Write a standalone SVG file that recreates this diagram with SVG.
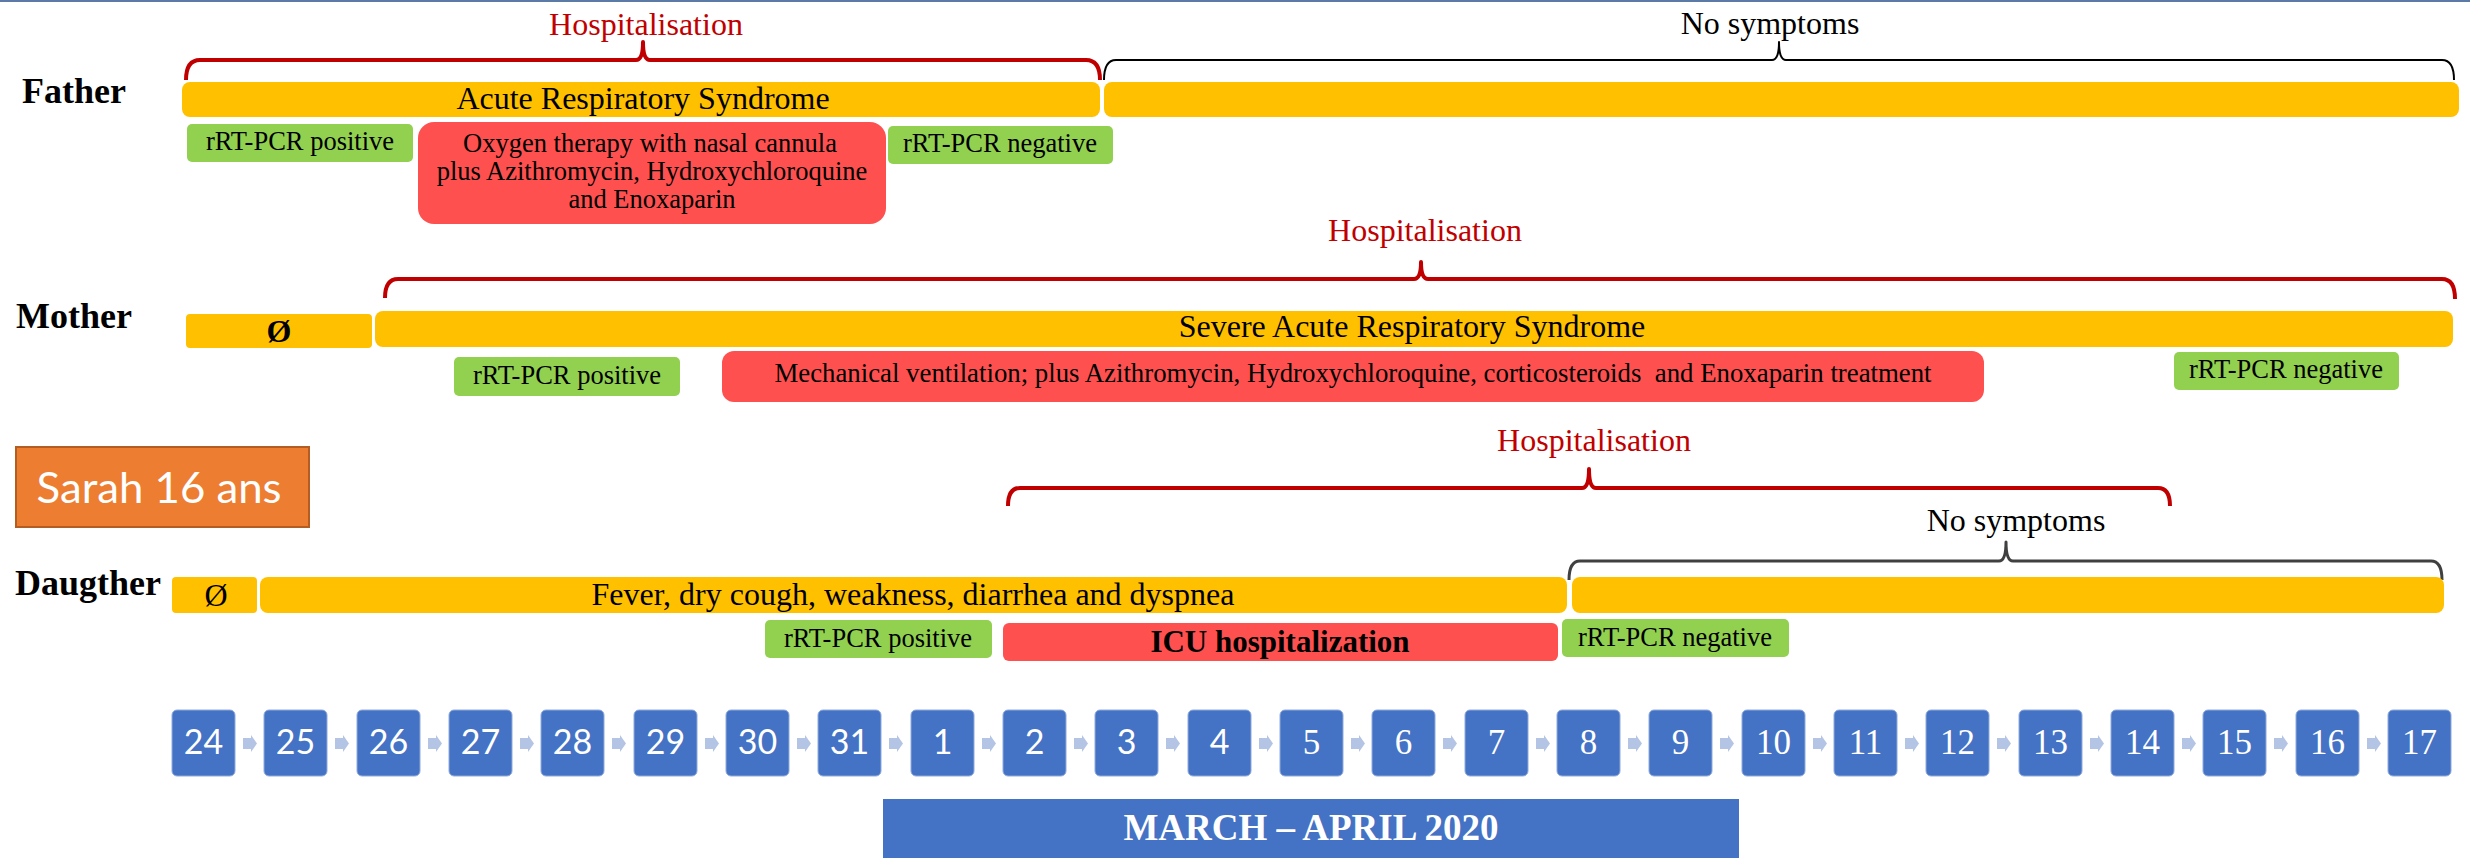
<svg xmlns="http://www.w3.org/2000/svg" xmlns:xlink="http://www.w3.org/1999/xlink" width="2470" height="858" viewBox="0 0 2470 858">
<style>
text{font-family:"Liberation Serif","Times New Roman",serif;fill:#000}
.bar{fill:#FFC000}
.pcr{fill:#92D050}
.red{fill:#FF5050}
.day{fill:#4472C4;stroke:#8FAADC;stroke-width:1}
.chev{fill:#B4C4E4}
.braceR{fill:none;stroke:#C00000;stroke-width:4;stroke-linejoin:round}
.braceK{fill:none;stroke:#000;stroke-width:2;stroke-linejoin:round}
.braceG{fill:none;stroke:#404040;stroke-width:3;stroke-linejoin:round}
.hosp{font-size:32px;fill:#C00000;text-anchor:middle}
.nos{font-size:32px;text-anchor:middle}
.who{font-size:36px;font-weight:bold}
.big{font-size:32px;text-anchor:middle}
.sm{font-size:26.5px;text-anchor:middle}
.dnS{font-family:Lato,"Liberation Sans",sans-serif;font-size:34px;fill:#fff;text-anchor:middle}
.dnT{font-size:35px;fill:#fff;text-anchor:middle}
.sarah{font-family:Lato,"Liberation Sans",sans-serif;font-size:42px;fill:#fff;text-anchor:middle}
.period{font-size:37px;font-weight:bold;fill:#fff;text-anchor:middle}
</style>
<defs>
<polygon id="chev" class="chev" points="0,3 8,3 8,0 14,8.5 8,17 8,14 0,14"/>
</defs>
<line x1="0" y1="1" x2="2470" y2="1" stroke="#5B7BA6" stroke-width="2"/>

<g id="connectors">
<path class="braceR" d="M186,80 Q186,60 200,60 L636,60 Q643,60 643,42 Q643,60 650,60 L1086,60 Q1100,60 1100,80"/>
<path class="braceK" d="M1104,80 Q1104,60 1116,60 L1772,60 Q1779,60 1779,42 Q1779,60 1786,60 L2442,60 Q2454,60 2454,80"/>
<path class="braceR" d="M385,298 Q385,279 398,279 L1414,279 Q1421,279 1421,262 Q1421,279 1428,279 L2442,279 Q2455,279 2455,299"/>
<path class="braceR" d="M1008,506 Q1008,488 1020,488 L1582,488 Q1589,488 1589,469 Q1589,488 1596,488 L2158,488 Q2170,488 2170,506"/>
<path class="braceG" d="M1569,580 Q1569,561 1580,561 L1999,561 Q2006,561 2006,542 Q2006,561 2013,561 L2431,561 Q2442,561 2442,580"/>
</g>

<g id="braceLabels">
<text class="hosp" x="646" y="35">Hospitalisation</text>
<text class="nos" x="1770" y="34">No symptoms</text>
<text class="hosp" x="1425" y="241">Hospitalisation</text>
<text class="hosp" x="1594" y="451">Hospitalisation</text>
<text class="nos" x="2016" y="531">No symptoms</text>
</g>

<g id="father">
<text class="who" x="22" y="103">Father</text>
<rect class="bar" x="182" y="82" width="918" height="35" rx="8"/>
<text class="big" x="643" y="109">Acute Respiratory Syndrome</text>
<rect class="bar" x="1104" y="82" width="1355" height="35" rx="8"/>
<rect class="pcr" x="187" y="124" width="226" height="38" rx="5"/>
<text class="sm" x="300" y="150">rRT-PCR positive</text>
<rect class="red" x="418" y="122" width="468" height="102" rx="16"/>
<text class="sm" x="650" y="152">Oxygen therapy with nasal cannula</text>
<text class="sm" x="652" y="180">plus Azithromycin, Hydroxychloroquine</text>
<text class="sm" x="652" y="208">and Enoxaparin</text>
<rect class="pcr" x="888" y="126" width="225" height="38" rx="5"/>
<text class="sm" x="1000" y="152">rRT-PCR negative</text>
</g>

<g id="mother">
<text class="who" x="16" y="328">Mother</text>
<rect class="bar" x="186" y="314" width="186" height="34" rx="4"/>
<text x="279" y="342" font-size="32" font-weight="bold" text-anchor="middle">Ø</text>
<rect class="bar" x="375" y="311" width="2078" height="36" rx="8"/>
<text class="big" x="1412" y="337">Severe Acute Respiratory Syndrome</text>
<rect class="pcr" x="454" y="357" width="226" height="39" rx="5"/>
<text class="sm" x="567" y="384">rRT-PCR positive</text>
<rect class="red" x="722" y="351" width="1262" height="51" rx="12"/>
<text x="1353" y="382" font-size="26.8" text-anchor="middle" xml:space="preserve">Mechanical ventilation; plus Azithromycin, Hydroxychloroquine, corticosteroids  and Enoxaparin treatment</text>
<rect class="pcr" x="2174" y="352" width="225" height="38" rx="5"/>
<text class="sm" x="2286" y="378">rRT-PCR negative</text>
</g>

<g id="sarah">
<rect x="16" y="447" width="293" height="80" fill="#ED7D31" stroke="#B35D22" stroke-width="2"/>
<text class="sarah" x="159" y="503" textLength="245" lengthAdjust="spacingAndGlyphs">Sarah 16 ans</text>
</g>

<g id="daughter">
<text class="who" x="15" y="595">Daugther</text>
<rect class="bar" x="172" y="577" width="85" height="36" rx="4"/>
<text x="216" y="606" font-size="32" text-anchor="middle">Ø</text>
<rect class="bar" x="260" y="577" width="1307" height="36" rx="8"/>
<text class="big" x="913" y="605" font-size="31.5">Fever, dry cough, weakness, diarrhea and dyspnea</text>
<rect class="bar" x="1572" y="577" width="872" height="36" rx="8"/>
<rect class="pcr" x="765" y="620" width="227" height="38" rx="5"/>
<text class="sm" x="878" y="647">rRT-PCR positive</text>
<rect class="red" x="1003" y="623" width="555" height="38" rx="6"/>
<text x="1280" y="652" font-size="31" font-weight="bold" text-anchor="middle">ICU hospitalization</text>
<rect class="pcr" x="1562" y="619" width="227" height="38" rx="5"/>
<text class="sm" x="1675" y="646">rRT-PCR negative</text>
</g>

<g id="timeline">
<use xlink:href="#chev" x="243" y="735"/>
<use xlink:href="#chev" x="335" y="735"/>
<use xlink:href="#chev" x="428" y="735"/>
<use xlink:href="#chev" x="520" y="735"/>
<use xlink:href="#chev" x="612" y="735"/>
<use xlink:href="#chev" x="705" y="735"/>
<use xlink:href="#chev" x="797" y="735"/>
<use xlink:href="#chev" x="889" y="735"/>
<use xlink:href="#chev" x="982" y="735"/>
<use xlink:href="#chev" x="1074" y="735"/>
<use xlink:href="#chev" x="1166" y="735"/>
<use xlink:href="#chev" x="1259" y="735"/>
<use xlink:href="#chev" x="1351" y="735"/>
<use xlink:href="#chev" x="1443" y="735"/>
<use xlink:href="#chev" x="1536" y="735"/>
<use xlink:href="#chev" x="1628" y="735"/>
<use xlink:href="#chev" x="1720" y="735"/>
<use xlink:href="#chev" x="1813" y="735"/>
<use xlink:href="#chev" x="1905" y="735"/>
<use xlink:href="#chev" x="1997" y="735"/>
<use xlink:href="#chev" x="2090" y="735"/>
<use xlink:href="#chev" x="2182" y="735"/>
<use xlink:href="#chev" x="2274" y="735"/>
<use xlink:href="#chev" x="2367" y="735"/>
</g>

<g id="day-24"><rect class="day" x="172" y="710" width="63" height="66" rx="5"/><text class="dnS" x="203.5" y="754">24</text></g>
<g id="day-25"><rect class="day" x="264" y="710" width="63" height="66" rx="5"/><text class="dnS" x="295.5" y="754">25</text></g>
<g id="day-26"><rect class="day" x="357" y="710" width="63" height="66" rx="5"/><text class="dnS" x="388.5" y="754">26</text></g>
<g id="day-27"><rect class="day" x="449" y="710" width="63" height="66" rx="5"/><text class="dnS" x="480.5" y="754">27</text></g>
<g id="day-28"><rect class="day" x="541" y="710" width="63" height="66" rx="5"/><text class="dnS" x="572.5" y="754">28</text></g>
<g id="day-29"><rect class="day" x="634" y="710" width="63" height="66" rx="5"/><text class="dnS" x="665.5" y="754">29</text></g>
<g id="day-30"><rect class="day" x="726" y="710" width="63" height="66" rx="5"/><text class="dnS" x="757.5" y="754">30</text></g>
<g id="day-31"><rect class="day" x="818" y="710" width="63" height="66" rx="5"/><text class="dnS" x="849.5" y="754">31</text></g>
<g id="day-1"><rect class="day" x="911" y="710" width="63" height="66" rx="5"/><text class="dnS" x="942.5" y="754">1</text></g>
<g id="day-2"><rect class="day" x="1003" y="710" width="63" height="66" rx="5"/><text class="dnS" x="1034.5" y="754">2</text></g>
<g id="day-3"><rect class="day" x="1095" y="710" width="63" height="66" rx="5"/><text class="dnS" x="1126.5" y="754">3</text></g>
<g id="day-4"><rect class="day" x="1188" y="710" width="63" height="66" rx="5"/><text class="dnS" x="1219.5" y="754">4</text></g>
<g id="day-5"><rect class="day" x="1280" y="710" width="63" height="66" rx="5"/><text class="dnT" x="1311.5" y="754">5</text></g>
<g id="day-6"><rect class="day" x="1372" y="710" width="63" height="66" rx="5"/><text class="dnT" x="1403.5" y="754">6</text></g>
<g id="day-7"><rect class="day" x="1465" y="710" width="63" height="66" rx="5"/><text class="dnT" x="1496.5" y="754">7</text></g>
<g id="day-8"><rect class="day" x="1557" y="710" width="63" height="66" rx="5"/><text class="dnT" x="1588.5" y="754">8</text></g>
<g id="day-9"><rect class="day" x="1649" y="710" width="63" height="66" rx="5"/><text class="dnT" x="1680.5" y="754">9</text></g>
<g id="day-10"><rect class="day" x="1742" y="710" width="63" height="66" rx="5"/><text class="dnT" x="1773.5" y="754">10</text></g>
<g id="day-11"><rect class="day" x="1834" y="710" width="63" height="66" rx="5"/><text class="dnT" x="1865.5" y="754">11</text></g>
<g id="day-12"><rect class="day" x="1926" y="710" width="63" height="66" rx="5"/><text class="dnT" x="1957.5" y="754">12</text></g>
<g id="day-13"><rect class="day" x="2019" y="710" width="63" height="66" rx="5"/><text class="dnT" x="2050.5" y="754">13</text></g>
<g id="day-14"><rect class="day" x="2111" y="710" width="63" height="66" rx="5"/><text class="dnT" x="2142.5" y="754">14</text></g>
<g id="day-15"><rect class="day" x="2203" y="710" width="63" height="66" rx="5"/><text class="dnT" x="2234.5" y="754">15</text></g>
<g id="day-16"><rect class="day" x="2296" y="710" width="63" height="66" rx="5"/><text class="dnT" x="2327.5" y="754">16</text></g>
<g id="day-17"><rect class="day" x="2388" y="710" width="63" height="66" rx="5"/><text class="dnT" x="2419.5" y="754">17</text></g>

<g id="period">
<rect x="883" y="799" width="856" height="59" fill="#4472C4"/>
<text class="period" x="1311" y="840">MARCH – APRIL 2020</text>
</g>
</svg>
